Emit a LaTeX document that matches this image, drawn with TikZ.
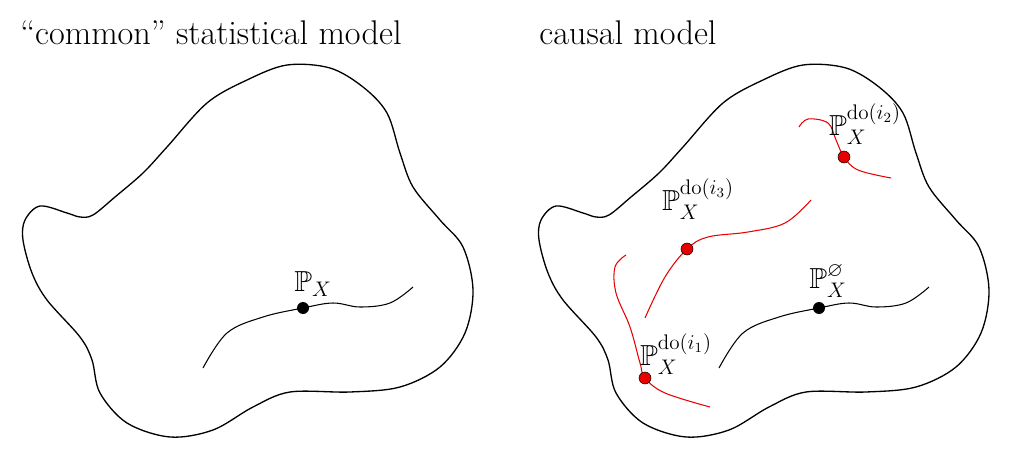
\documentclass[tikz,border=0pt]{standalone}
\usepackage{amsmath,amssymb}
\usetikzlibrary{positioning}
\definecolor{mRed}{HTML}{E80000}

\begin{document}
\begin{tikzpicture}[x=0.02cm, y=-0.02cm,
    every node/.style={font=\fontsize{16.5}{19}\selectfont, inner sep=0pt},
    outline/.style={line width=0.75pt},
    dist/.style={line width=0.6pt},
    intv/.style={line width=0.6pt, mRed},
    bdot/.style={circle, fill=black, minimum size=0.24cm},
    rdot/.style={circle, fill=mRed, draw=black, line width=0.3pt, minimum size=0.24cm},
    title/.style={anchor=base west, font=\fontsize{19.5}{23}\selectfont}]
  \useasboundingbox (0,0) rectangle (1017,466);
  \node[title] (tL) at (20,45) {``common'' statistical model};
  \node[title] (tR) at (539,45) {causal model};
  \foreach \dx/\nm in {0/L,516/R} {
    \draw[outline, shift={(\dx,0)}] plot[smooth cycle, tension=0.55] coordinates {
      (287,65) (247,80) (207,103) (167,147) (143,173) (115,197) (93,215)
      (80,217) (67,213) (40,206) (25,220) (23,240) (32,273) (47,300)
      (80,337) (92,360) (100,393) (127,423) (170,437) (213,430) (253,407)
      (290,392) (350,392) (400,387) (440,367) (465,333) (473,290) (463,247)
      (440,220) (413,187) (400,153) (387,113) (363,87) (330,68)};
    \draw[dist, shift={(\dx,0)}] plot[smooth, tension=0.6] coordinates {
      (203,368) (227,333) (263,317) (303,308) (333,303) (360,307) (390,303) (413,287)};
    \node[bdot] (dot\nm) at (303+\dx,308) {};
  }
  \node (pL) at (313,284) {$\mathbb{P}_X$};
  \node (pR) at (828,281) {$\mathbb{P}_X^{\varnothing}$};
  \draw[intv] plot[smooth, tension=0.6] coordinates {
    (799,127) (808,119) (828,123) (836,140) (844,157) (858,170) (891,178)};
  \draw[intv] plot[smooth, tension=0.6] coordinates {
    (645,318) (665,277) (687,249) (708,237) (748,232) (785,223) (811,200)};
  \draw[intv] plot[smooth, tension=0.6] coordinates {
    (626,255) (615,267) (616,293) (630,327) (640,363) (645,378) (665,393) (710,407)};
  \node[rdot] (d2) at (844,157) {};
  \node[rdot] (d3) at (687,249) {};
  \node[rdot] (d1) at (645,378) {};
  \node (p2) at (865,124) {$\mathbb{P}_X^{\mathrm{do}(i_2)}$};
  \node (p3) at (698,199) {$\mathbb{P}_X^{\mathrm{do}(i_3)}$};
  \node (p1) at (676,354) {$\mathbb{P}_X^{\mathrm{do}(i_1)}$};
\end{tikzpicture}
\end{document}
